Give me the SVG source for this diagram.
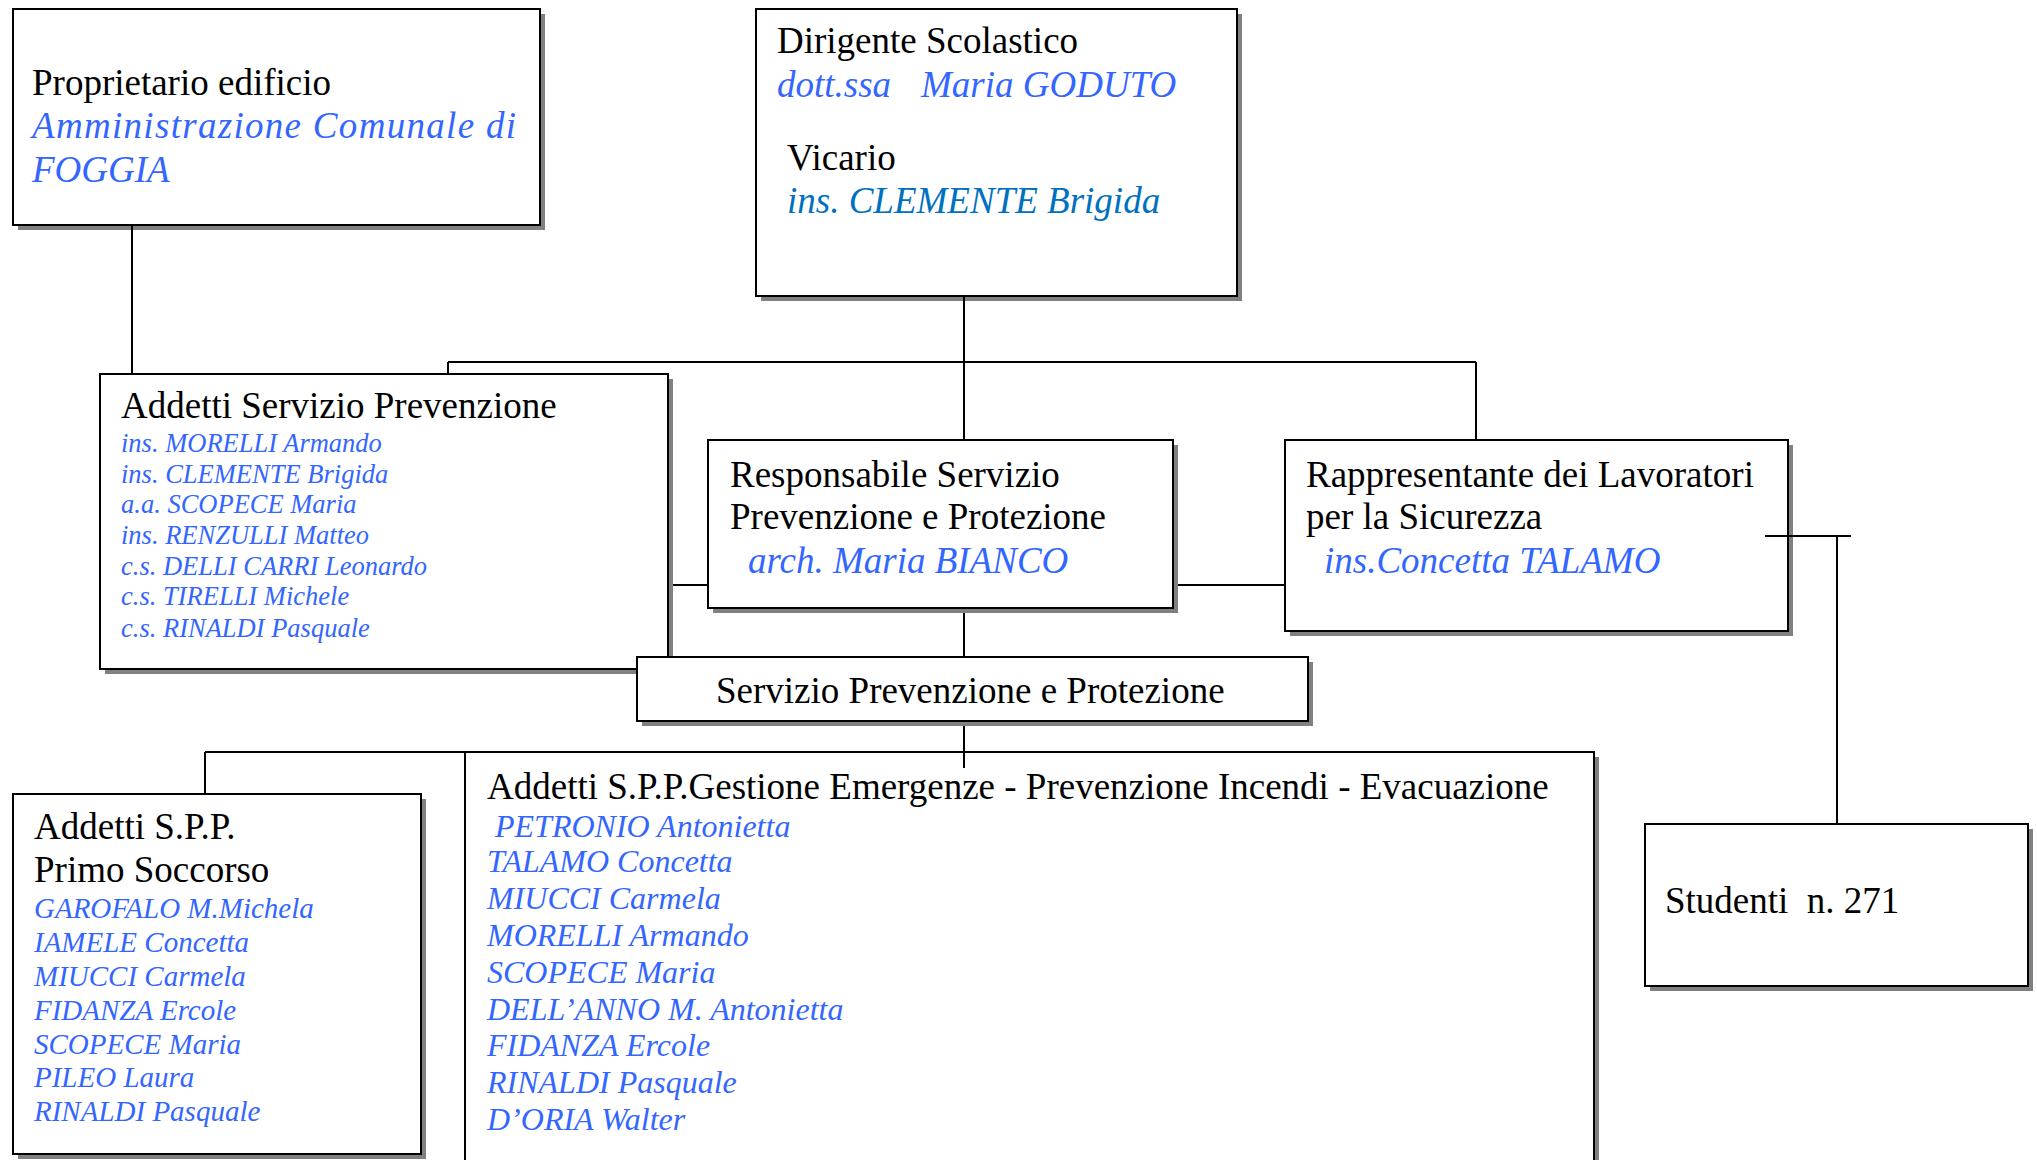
<svg xmlns="http://www.w3.org/2000/svg" width="2037" height="1160" viewBox="0 0 2037 1160">
<defs>
<style>
.box{fill:#fff;stroke:#000;stroke-width:2}
.sh{fill:#808080}
.t{font-family:"Liberation Serif","Times New Roman",serif;font-size:37px;fill:#000}
.n{font-family:"Liberation Serif","Times New Roman",serif;font-style:italic;fill:#3366ff}
.c{fill:none;stroke:#000;stroke-width:2}
</style>
</defs>
<rect width="2037" height="1160" fill="#fff"/>
<g id="proprietario">
<rect class="sh" x="18" y="14" width="527" height="216"/>
<rect class="box" x="13" y="9" width="527" height="216"/>
<text class="t" x="32" y="95">Proprietario edificio</text>
<text class="n" x="32" y="138" font-size="37" textLength="484" lengthAdjust="spacing">Amministrazione  Comunale  di</text>
<text class="n" x="32" y="182" font-size="37">FOGGIA</text>
</g>
<g id="dirigente">
<rect class="sh" x="761" y="14" width="481" height="287"/>
<rect class="box" x="756" y="9" width="481" height="287"/>
<text class="t" x="777" y="53">Dirigente Scolastico</text>
<text class="n" x="777" y="97" font-size="37">dott.ssa</text>
<text class="n" x="921" y="97" font-size="37">Maria GODUTO</text>
<text class="t" x="787" y="170">Vicario</text>
<text class="n" x="787" y="213" font-size="37" style="fill:#0070c0">ins. CLEMENTE Brigida</text>
</g>
<g id="addetti-prevenzione">
<rect class="sh" x="105" y="379" width="568" height="295"/>
<rect class="box" x="100" y="374" width="568" height="295"/>
<text class="t" x="121" y="418">Addetti Servizio Prevenzione</text>
<g class="n" font-size="26.5">
<text x="121" y="452">ins. MORELLI Armando</text>
<text x="121" y="483">ins. CLEMENTE Brigida</text>
<text x="121" y="513">a.a. SCOPECE Maria</text>
<text x="121" y="544">ins. RENZULLI Matteo</text>
<text x="121" y="575">c.s. DELLI CARRI Leonardo</text>
<text x="121" y="605">c.s. TIRELLI Michele</text>
<text x="121" y="637">c.s. RINALDI Pasquale</text>
</g>
</g>
<g id="responsabile">
<rect class="sh" x="713" y="445" width="465" height="168"/>
<rect class="box" x="708" y="440" width="465" height="168"/>
<text class="t" x="730" y="487">Responsabile Servizio</text>
<text class="t" x="730" y="529">Prevenzione e Protezione</text>
<text class="n" x="748" y="573" font-size="37">arch. Maria BIANCO</text>
</g>
<g id="rappresentante">
<rect class="sh" x="1290" y="445" width="503" height="191"/>
<rect class="box" x="1285" y="440" width="503" height="191"/>
<text class="t" x="1306" y="487">Rappresentante dei Lavoratori</text>
<text class="t" x="1306" y="529">per la Sicurezza</text>
<text class="n" x="1324" y="573" font-size="37">ins.Concetta TALAMO</text>
</g>
<g id="servizio">
<rect class="sh" x="642" y="662" width="671" height="64"/>
<rect class="box" x="637" y="657" width="671" height="64"/>
<text class="t" x="716" y="703">Servizio Prevenzione e Protezione</text>
</g>
<g id="primo-soccorso">
<rect class="sh" x="18" y="799" width="408" height="360"/>
<rect class="box" x="13" y="794" width="408" height="360"/>
<text class="t" x="34" y="839">Addetti S.P.P.</text>
<text class="t" x="34" y="882">Primo Soccorso</text>
<g class="n" font-size="29">
<text x="34" y="918">GAROFALO M.Michela</text>
<text x="34" y="952">IAMELE Concetta</text>
<text x="34" y="986">MIUCCI Carmela</text>
<text x="34" y="1020">FIDANZA Ercole</text>
<text x="34" y="1054">SCOPECE Maria</text>
<text x="34" y="1087">PILEO Laura</text>
<text x="34" y="1121">RINALDI Pasquale</text>
</g>
</g>
<g id="gestione-emergenze">
<rect class="sh" x="470" y="757" width="1129" height="420"/>
<rect class="box" x="465" y="752" width="1129" height="420"/>
<text class="t" x="487" y="799">Addetti S.P.P.Gestione Emergenze - Prevenzione Incendi - Evacuazione</text>
<g class="n" font-size="32">
<text x="495" y="837">PETRONIO Antonietta</text>
<text x="487" y="872">TALAMO Concetta</text>
<text x="487" y="909">MIUCCI Carmela</text>
<text x="487" y="946">MORELLI Armando</text>
<text x="487" y="983">SCOPECE Maria</text>
<text x="487" y="1020">DELL’ANNO M. Antonietta</text>
<text x="487" y="1056">FIDANZA Ercole</text>
<text x="487" y="1093">RINALDI Pasquale</text>
<text x="487" y="1130">D’ORIA Walter</text>
</g>
</g>
<g id="studenti">
<rect class="sh" x="1650" y="829" width="383" height="162"/>
<rect class="box" x="1645" y="824" width="383" height="162"/>
<text class="t" x="1665" y="913" xml:space="preserve">Studenti  n. 271</text>
</g>
<g id="connectors">
<path class="c" d="M132 226V374"/>
<path class="c" d="M964 297V440"/>
<path class="c" d="M448 362H1476"/>
<path class="c" d="M448 362V374"/>
<path class="c" d="M1476 362V440"/>
<path class="c" d="M673 585H708"/>
<path class="c" d="M1178 585H1285"/>
<path class="c" d="M964 613V657"/>
<path class="c" d="M964 726V768"/>
<path class="c" d="M205 752H1213"/>
<path class="c" d="M205 752V794"/>
<path class="c" d="M1765 536H1851"/>
<path class="c" d="M1837 536V824"/>
</g>
</svg>
